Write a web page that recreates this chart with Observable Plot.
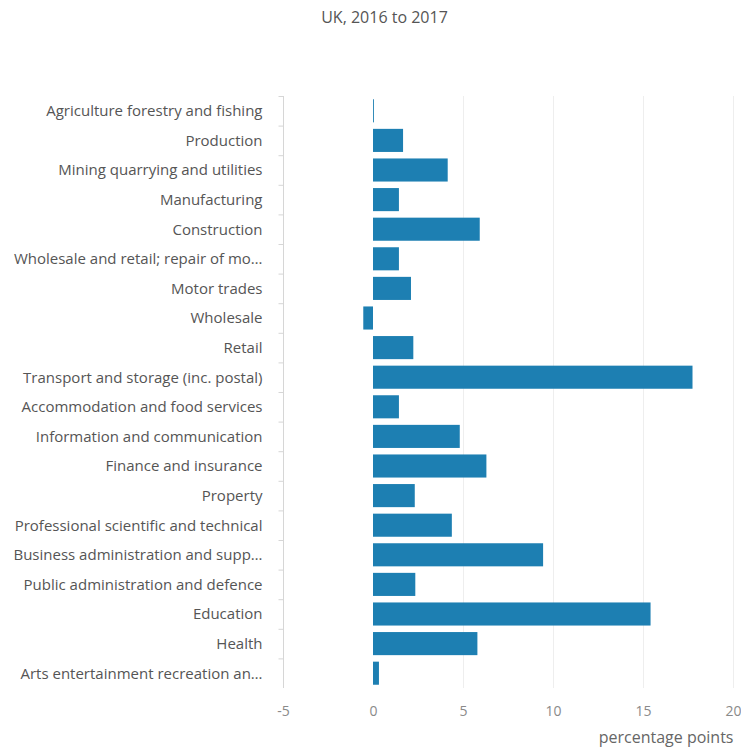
<!DOCTYPE html>
<html>
<head>
<meta charset="utf-8">
<script src="https://cdn.jsdelivr.net/npm/d3@7"></script>
<script src="https://cdn.jsdelivr.net/npm/@observablehq/plot@0.6"></script>
<style>
  html, body { margin: 0; padding: 0; background: #fff; }
  body { width: 741px; height: 749px; overflow: hidden; font-family: "Open Sans", sans-serif; }
  #title { height: 36px; margin-left: 28px; width: 713px; text-align: center; font-size: 16px; color: #555; line-height: 34px; }
  #chart svg { display: block; }
</style>
</head>
<body>
<div id="title">UK, 2016 to 2017</div>
<div id="chart"></div>
<script>
const categories = [
  "Agriculture forestry and fishing",
  "Production",
  "Mining quarrying and utilities",
  "Manufacturing",
  "Construction",
  "Wholesale and retail; repair of motor vehicles and motorcycles",
  "Motor trades",
  "Wholesale",
  "Retail",
  "Transport and storage (inc. postal)",
  "Accommodation and food services",
  "Information and communication",
  "Finance and insurance",
  "Property",
  "Professional scientific and technical",
  "Business administration and support services",
  "Public administration and defence",
  "Education",
  "Health",
  "Arts entertainment recreation and other services"
];
const tickLabels = [
  "Agriculture forestry and fishing",
  "Production",
  "Mining quarrying and utilities",
  "Manufacturing",
  "Construction",
  "Wholesale and retail; repair of mo…",
  "Motor trades",
  "Wholesale",
  "Retail",
  "Transport and storage (inc. postal)",
  "Accommodation and food services",
  "Information and communication",
  "Finance and insurance",
  "Property",
  "Professional scientific and technical",
  "Business administration and supp…",
  "Public administration and defence",
  "Education",
  "Health",
  "Arts entertainment recreation an…"
];
const values = [0.05, 1.67, 4.15, 1.44, 5.93, 1.44, 2.11, -0.54, 2.24, 17.75, 1.44, 4.82, 6.3, 2.32, 4.38, 9.45, 2.35, 15.42, 5.8, 0.33];
const xTicks = [-5, 0, 5, 10, 15, 20];
const xLabel = "percentage points";

const data = categories.map((c, i) => ({category: c, value: values[i]}));
const labelOf = new Map(categories.map((c, i) => [c, tickLabels[i]]));

const chart = Plot.plot({
  width: 741,
  height: 713,
  marginTop: 60,
  marginBottom: 61,
  marginLeft: 283,
  marginRight: 8,
  style: {fontFamily: "'Open Sans', sans-serif", fontSize: "14px", color: "#555", background: "#fff"},
  x: {domain: [-5, 20]},
  y: {domain: categories, paddingInner: 0.22, paddingOuter: 0.11, round: false},
  marks: [
    Plot.gridX(xTicks.filter(d => d > 0), {stroke: "#eee", strokeOpacity: 1}),
    Plot.ruleX([-5], {stroke: "#d6d6d6"}),
    Plot.ruleY(categories, {y: d => d, x1: -5.25, x2: -5, dy: -14.8, stroke: "#d6d6d6"}),
    Plot.barX(data, {y: "category", x: "value", fill: "#1d7fb2"}),
    Plot.axisY({tickSize: 0, tickPadding: 21, tickFormat: d => labelOf.get(d), label: null, fill: "#555", fontSize: 15}),
    Plot.axisX({ticks: xTicks, tickSize: 0, tickPadding: 18, tickFormat: d => d, fill: "#8a8a8a", fontSize: 14, label: null}),
    Plot.text([xLabel], {frameAnchor: "bottom-right", text: d => d, textAnchor: "end", lineAnchor: "middle",
      dy: 49, fill: "#666", fontSize: 16})
  ]
});
document.getElementById("chart").appendChild(chart);
</script>
</body>
</html>
